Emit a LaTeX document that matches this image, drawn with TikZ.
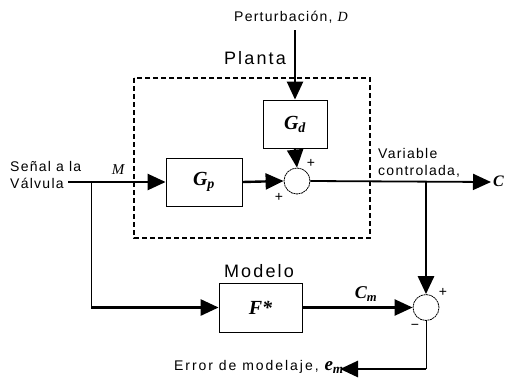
\documentclass[tikz,border=0pt]{standalone}
\usepackage{fontspec}
\setmainfont{Liberation Sans}
\newfontfamily\tnr{Liberation Serif}
\usetikzlibrary{arrows.meta,positioning}

\newcommand{\bvar}[2]{{\tnr\bfseries\itshape #1}\textsubscript{\tnr\bfseries\itshape #2}}

\begin{document}
\begin{tikzpicture}[x=1pt,y=-1pt,
  every node/.style={font=\fontsize{14}{17}\selectfont\addfontfeature{LetterSpace=9}},
  blk/.style={draw,line width=0.8pt,minimum height=48pt,inner sep=0pt,font=\fontsize{20}{22}\selectfont},
  sumc/.style={draw,circle,densely dashed,dash pattern=on 2pt off 0.6pt,line width=0.8pt,minimum size=26pt,inner sep=0pt},
  big/.style={font=\fontsize{18}{20}\selectfont\addfontfeature{LetterSpace=12}},
  sig/.style={line width=2.4pt,-{Triangle[length=18pt,width=16pt]}},
  thin/.style={line width=0.9pt}]
  \useasboundingbox (0,0) rectangle (506,384);

  % planta
  \draw[dashed,line width=1.6pt,dash pattern=on 5pt off 3pt] (134,78) rectangle (370,238);
  \node[big] (planta) at (255,58) {Planta};
  \node (pert) at (291,17) {Perturbación, {\tnr\itshape D}};
  \node[blk,minimum width=64pt] (gd) at (295,124) {\bvar{G}{d}};
  \node[blk,minimum width=76pt] (gp) at (204,182) {\bvar{G}{p}};
  \node[sumc] (s1) at (297,181) {};
  \node at (311,163) {+};
  \node at (279,197) {+};

  % modelo
  \node[big] (modelo) at (259,271) {Modelo};
  \node[blk,minimum width=83pt,minimum height=49pt] (fm) at (260.5,307.5) {{\tnr\bfseries\itshape F*}};
  \node[sumc] (s2) at (426,307.5) {};
  \node at (443,292) {+};
  \node at (415,327) {\textminus};

  % textos
  \node[align=left,anchor=west,inner sep=0pt] (senal) at (10,175) {Señal a la\\Válvula};
  \node (m) at (118,170) {\fontsize{15}{17}\selectfont\tnr\itshape M};
  \node[align=left,anchor=west,inner sep=0pt] (var) at (378,163) {Variable\\controlada,};
  \node[anchor=west,inner sep=0pt] (c) at (493,181) {\fontsize{16}{18}\selectfont\tnr\bfseries\itshape C};
  \node (cm) at (366,294) {\fontsize{18}{20}\selectfont\bvar{C}{m}};
  \node[anchor=east,inner sep=0pt] (err) at (344,367) {\addfontfeature{LetterSpace=14}Error de modelaje, \fontsize{19}{20}\selectfont\bvar{e}{m}};

  \coordinate (dtop) at (295,30);
  \coordinate (vin) at (68,182);
  \coordinate (br1) at (91,182);
  \coordinate (br1b) at (91,307.5);
  \coordinate (cout) at (491,182);
  \coordinate (br2) at (426,182);
  \coordinate (ecorner) at (426,369);
  \coordinate (eend) at (340,369);

  % conexiones
  \draw[sig] (dtop) -- (gd.north);
  \draw[sig] (gd.south) -- (s1.north);
  \draw[sig] (vin) -- (gp.west);
  \draw[sig] (gp.east) -- (s1.west);
  \draw[line width=1.8pt,-{Triangle[length=18pt,width=16pt]}] (s1.east) -- (cout);
  \draw[thin] (br1) -- (br1b);
  \draw[sig,line width=2.8pt] (br1b) -- (fm.west);
  \draw[sig] (fm.east) -- (s2.west);
  \draw[sig,line width=2.8pt] (br2) -- (s2.north);
  \draw[thin] (s2.south) -- (ecorner);
  \draw[sig,line width=2.8pt] (ecorner) -- (eend);
\end{tikzpicture}
\end{document}
